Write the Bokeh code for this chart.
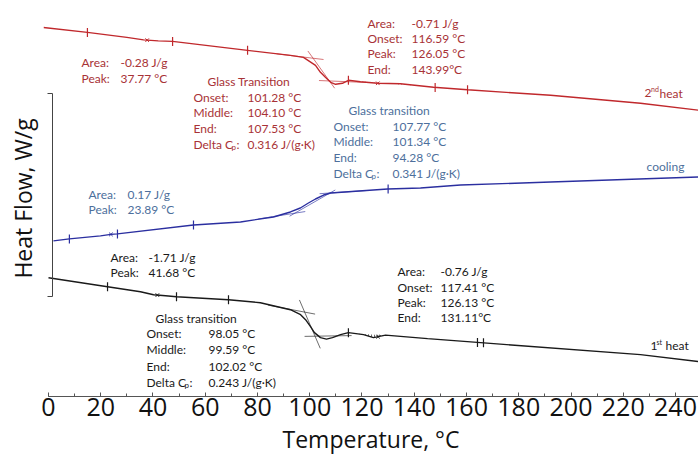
import numpy as np
from bokeh.plotting import figure
from bokeh.models import Range1d, Label, FixedTicker, SingleIntervalTicker, LinearAxis
from bokeh.embed import file_html
from bokeh.resources import INLINE

# ---------------- data ----------------
# 2nd heat (red)
red_T = [-1.9, 14.9, 30.0, 36.4, 42.0, 47.5, 76.2, 92.6, 97.6, 102.2, 104.1, 106.0, 108.0,
         109.9, 112.5, 114.8, 119.4, 125.9, 134.7, 147.4, 160.4, 192.2, 226.6, 248.8]
red_hf = [3.70, 3.65, 3.60, 3.575, 3.565, 3.56, 3.47, 3.42, 3.40, 3.32, 3.25, 3.20, 3.15,
          3.13, 3.14, 3.17, 3.155, 3.14, 3.135, 3.10, 3.075, 3.02, 2.94, 2.87]
red_ticks = [14.9, 47.5, 76.2, 114.8, 148.0, 160.4]
red_peaks = [37.77, 126.05]
red_tg = [101.28, 104.10, 107.53]
red_area = [116.59, 143.99]

# cooling (blue)
blue_T = [1.9, 8.0, 19.9, 23.9, 26.4, 55.5, 73.5, 86.1, 92.6, 96.4, 99.5, 102.2, 105.3,
          108.0, 129.8, 142.4, 157.7, 192.2, 248.8]
blue_hf = [1.56, 1.58, 1.61, 1.625, 1.63, 1.72, 1.75, 1.80, 1.85, 1.89, 1.94, 1.98, 2.02,
           2.04, 2.08, 2.09, 2.12, 2.15, 2.20]
blue_ticks = [8.0, 26.4, 55.5, 130.0]
blue_peaks = [23.89]
blue_tg = [107.77, 101.34, 94.28]

# 1st heat (black)
black_T = [0.0, 22.6, 35.2, 40.2, 44.8, 49.0, 68.9, 81.1, 92.6, 96.5, 98.4, 100.3, 101.8,
           104.1, 106.4, 108.7, 111.8, 114.8, 120.6, 124.4, 129.0, 145.1, 165.4, 226.6, 248.8]
black_hf = [1.19, 1.10, 1.05, 1.02, 1.01, 1.00, 0.97, 0.94, 0.87, 0.82, 0.77, 0.70, 0.64,
            0.59, 0.575, 0.59, 0.62, 0.64, 0.62, 0.59, 0.615, 0.58, 0.54, 0.42, 0.35]
black_ticks = [22.6, 49.0, 68.9, 114.8, 164.2, 166.5]
black_peaks = [41.68, 126.13]
black_tg = [98.05, 99.59, 102.02]
black_area = [117.41, 131.11]

x_ticks_step = 20

RED_L, RED_T = "#c0282c", "#a83236"
BLUE_L, BLUE_T = "#2b2fa0", "#4d6f9c"
BLK = "#1a1a1a"

p = figure(width=698, height=457, output_backend="svg", toolbar_location=None,
           x_range=Range1d(-1.91, 248.8), y_range=Range1d(0, 3.97),
           min_border_left=43, min_border_right=0, min_border_top=0, min_border_bottom=60)
p.grid.visible = False
p.outline_line_color = None
p.background_fill_color = "white"

# x axis
xa = p.xaxis[0]
xa.ticker = SingleIntervalTicker(interval=x_ticks_step, num_minor_ticks=2)
xa.bounds = (0, 250)
xa.axis_line_color = "#555555"
xa.major_tick_line_color = "#555555"
xa.minor_tick_line_color = "#555555"
xa.major_tick_in = 4
xa.major_tick_out = 0
xa.minor_tick_in = 3
xa.minor_tick_out = 0
xa.major_label_text_font = "Open Sans"
xa.major_label_text_font_size = "25px"
xa.major_label_text_color = "#111111"
xa.major_label_standoff = 1
xa.axis_label = "Temperature, °C"
xa.axis_label_text_font = "Open Sans"
xa.axis_label_text_font_size = "23px"
xa.axis_label_text_font_style = "normal"
xa.axis_label_text_color = "#111111"
xa.axis_label_standoff = 4

# default y axis: carries only the title
ya = p.yaxis[0]
ya.ticker = FixedTicker(ticks=[])
ya.bounds = (1.00, 3.04)
ya.axis_line_color = None
ya.major_tick_line_color = None
ya.minor_tick_line_color = None
ya.major_label_standoff = 0
ya.axis_label = "Heat Flow, W/g"
ya.axis_label_text_font = "Open Sans"
ya.axis_label_text_font_size = "23px"
ya.axis_label_text_font_style = "normal"
ya.axis_label_text_color = "#111111"
ya.axis_label_standoff = 5

# bracket-like y axis line at a fixed temperature position, no labels
yb = LinearAxis(fixed_location=1.53, bounds=(1.00, 3.04),
                ticker=FixedTicker(ticks=[1.00, 3.04]),
                major_label_overrides={1.0: "", 3.04: ""}, major_label_standoff=0,
                major_tick_out=5, major_tick_in=0, minor_tick_out=0, minor_tick_in=0,
                axis_line_color="#444444", major_tick_line_color="#444444")
p.add_layout(yb, "left")


def tangents(T, hf, tg):
    lo, hi = min(tg[0], tg[2]), max(tg[0], tg[2])

    def fit(a, b):
        xs = np.linspace(a, b, 30)
        return np.polyfit(xs, np.interp(xs, T, hf), 1)
    low = fit(lo - 25, lo - 4)
    high = fit(hi + 4, hi + 25)
    y_lo = np.polyval(low, lo)
    y_hi = np.polyval(high, hi)
    s = (y_hi - y_lo) / (hi - lo)
    xs = [[lo - 14, lo + 4], [hi - 4, hi + 14], [lo - 2, hi + 2]]
    ys = [list(np.polyval(low, xs[0])), list(np.polyval(high, xs[1])),
          [y_lo - 2 * s, y_hi + 2 * s]]
    return xs, ys


def area(T, hf, lim, color):
    xs = np.linspace(lim[0], lim[1], 40)
    yc = np.interp(xs, T, hf)
    ya_, yb_ = np.interp(lim, T, hf)
    yl = ya_ + (yb_ - ya_) * (xs - lim[0]) / (lim[1] - lim[0])
    p.varea(x=xs, y1=yc, y2=yl, fill_alpha=0, hatch_pattern="vertical_line",
            hatch_color=color, hatch_scale=3, hatch_weight=0.8, hatch_alpha=0.8)


for T, hf, ticks, peaks, tg, col in [
        (red_T, red_hf, red_ticks, red_peaks, red_tg, RED_L),
        (blue_T, blue_hf, blue_ticks, blue_peaks, blue_tg, BLUE_L),
        (black_T, black_hf, black_ticks, black_peaks, black_tg, BLK)]:
    txs, tys = tangents(T, hf, tg)
    p.multi_line(xs=txs, ys=tys, line_color=col, line_width=0.8, line_alpha=0.8)
    p.line(T, hf, line_color=col, line_width=1.4)
    p.scatter(x=ticks, y=list(np.interp(ticks, T, hf)), marker="dash", angle=np.pi / 2,
              size=9, line_color=col, line_width=1.2)
    p.scatter(x=peaks, y=list(np.interp(peaks, T, hf)), marker="x", size=5,
              line_color=col, line_width=1)

area(red_T, red_hf, red_area, RED_L)
area(black_T, black_hf, black_area, BLK)


def tx(px):
    return (px - 48) / 2.6125


def ty(py):
    return (397 - py) / 100


def put(px, py, s, color, size=12, dx=0, dy=0, font="Lato"):
    p.add_layout(Label(x=tx(px), y=ty(py), text=s, text_color=color, text_font=font,
                       text_font_size=f"{size}px", text_baseline="middle",
                       text_align="left", x_offset=dx, y_offset=dy))


def delta_cp(px, py, color):
    put(px, py, "Delta C", color)
    put(px, py, "p", color, size=8, dx=38, dy=-3)
    put(px, py, ":", color, dx=43)


def block(rows, px, vx, py0, step, color):
    for i, (k, v) in enumerate(rows):
        y = py0 + i * step
        if k == "Delta Cp:":
            delta_cp(px, y, color)
        else:
            put(px, y, k, color)
        put(vx, y, v, color)


# red annotations
block([("Area:", "-0.28 J/g"), ("Peak:", "37.77 °C")], 81, 120, 62, 16, RED_T)
put(207, 81, "Glass Transition", RED_T)
block([("Onset:", "101.28 °C"), ("Middle:", "104.10 °C"), ("End:", "107.53 °C"),
       ("Delta Cp:", "0.316 J/(g·K)")], 193, 247, 97, 15.7, RED_T)
block([("Area:", "-0.71 J/g"), ("Onset:", "116.59 °C"), ("Peak:", "126.05 °C"),
       ("End:", "143.99°C")], 367, 411, 23, 15.3, RED_T)
put(644, 93, "2", RED_T)
put(644, 93, "nd", RED_T, size=7, dx=6.5, dy=4)
put(659, 93, "heat", RED_T)

# blue annotations
block([("Area:", "0.17 J/g"), ("Peak:", "23.89 °C")], 88, 127, 194, 16, BLUE_T)
put(348, 110, "Glass transition", BLUE_T)
block([("Onset:", "107.77 °C"), ("Middle:", "101.34 °C"), ("End:", "94.28 °C"),
       ("Delta Cp:", "0.341 J/(g·K)")], 333, 392, 126, 15.7, BLUE_T)
put(646, 166, "cooling", BLUE_T)

# black annotations
block([("Area:", "-1.71 J/g"), ("Peak:", "41.68 °C")], 110, 148, 258, 15, BLK)
put(155, 319, "Glass transition", BLK)
block([("Onset:", "98.05 °C"), ("Middle:", "99.59 °C"), ("End:", "102.02 °C"),
       ("Delta Cp:", "0.243 J/(g·K)")], 146, 208, 334, 16.3, BLK)
block([("Area:", "-0.76 J/g"), ("Onset:", "117.41 °C"), ("Peak:", "126.13 °C"),
       ("End:", "131.11°C")], 397, 440, 272, 15.3, BLK)
put(650, 346, "1", BLK)
put(650, 346, "st", BLK, size=7, dx=6, dy=4)
put(665, 346, "heat", BLK)

open("out.html", "w").write(file_html(p, INLINE))
